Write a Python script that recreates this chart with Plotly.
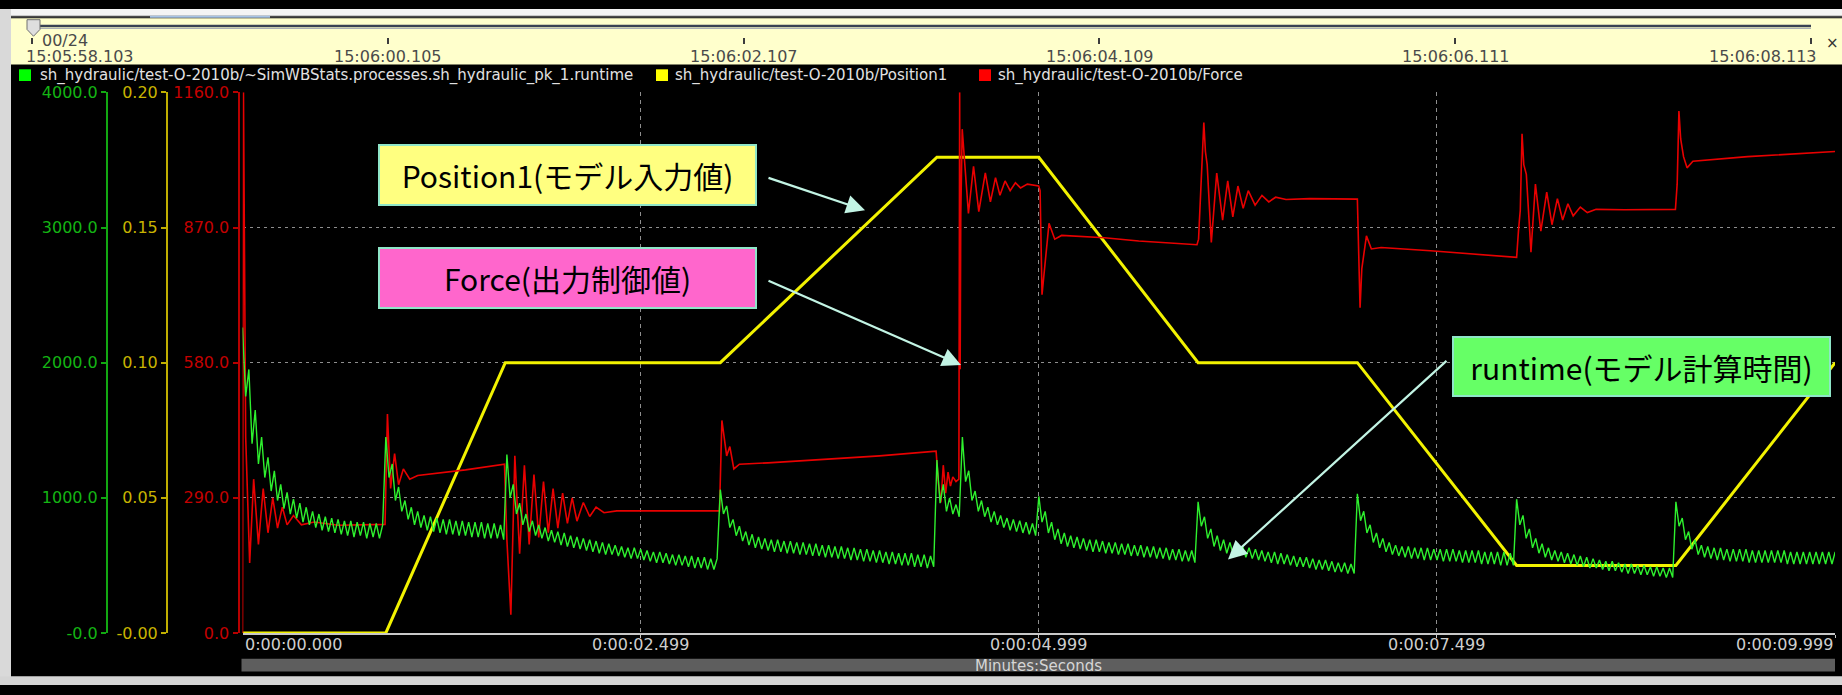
import plotly.graph_objects as go

W, H = 1842, 695


def px(x):
    """pixel column -> paper x"""
    return x / W


def py(y):
    """pixel row (from top) -> paper y"""
    return 1 - y / H


# ---------------- data ----------------
# Position1 (model input), breakpoints of the reference trajectory [s, m]
pos_t = [0.0, 0.9, 1.65, 3.0, 4.36, 5.0, 6.0, 7.0, 8.0, 9.0, 10.0]
pos_v = [0.0, 0.0, 0.1, 0.1, 0.176, 0.176, 0.1, 0.1, 0.025, 0.025, 0.1]

# Force (controller output) [s, N]
force_t = [
    0.0, 0.006, 0.02, 0.045, 0.07, 0.1, 0.13, 0.16, 0.19, 0.22, 0.25, 0.28, 0.32, 0.37, 0.45, 0.6, 0.895,
    0.91, 0.93, 0.955, 0.98, 1.01, 1.05, 1.1, 1.4, 1.645,
    1.66, 1.685, 1.71, 1.74, 1.77, 1.8, 1.83, 1.86, 1.89, 1.92, 1.95, 1.98, 2.01, 2.04, 2.07, 2.1,
    2.14, 2.18, 2.22, 2.27, 2.35, 2.995,
    3.01, 3.04, 3.06, 3.085, 3.12, 3.3, 4.0, 4.355,
    4.37, 4.385, 4.4, 4.415, 4.43, 4.445, 4.46, 4.48, 4.498,
    4.503, 4.506, 4.51, 4.519, 4.558, 4.59, 4.623, 4.664, 4.696, 4.728, 4.756, 4.788, 4.82, 4.853,
    4.885, 4.928, 4.982, 4.999,
    5.008, 5.02, 5.064, 5.1, 5.143, 5.412, 5.627, 5.993,
    6.003, 6.018, 6.036, 6.046, 6.057, 6.083, 6.117, 6.154, 6.186, 6.218, 6.25, 6.283, 6.315, 6.358,
    6.401, 6.444, 6.487, 6.552, 6.7, 7.0,
    7.017, 7.028, 7.057, 7.088, 7.149, 7.459, 8.0,
    8.012, 8.023, 8.034, 8.045, 8.061, 8.09, 8.118, 8.152, 8.189, 8.222, 8.256, 8.289, 8.322, 8.355,
    8.4, 8.444, 8.499, 8.676, 8.997,
    9.008, 9.019, 9.03, 9.048, 9.07, 9.107, 9.45, 9.999,
]
force_v = [
    0, 1160, 420, 150, 330, 190, 310, 215, 290, 225, 270, 232, 252, 232, 238, 231, 233,
    470, 310, 385, 318, 352, 330, 338, 350, 362,
    200, 39, 380, 170, 360, 190, 340, 205, 325, 215, 310, 225, 300, 235, 290, 240,
    280, 250, 270, 258, 262, 262,
    456, 380, 400, 352, 362, 365, 380, 390,
    320, 280, 360, 300, 345, 315, 335, 325, 330,
    1160, 566, 900, 1081, 900, 1001, 904, 987, 925, 977, 939, 970, 949, 966,
    955, 963, 961, 959,
    949, 726, 879, 845, 853, 848, 841, 833,
    845, 963, 1095, 1033, 1005, 838, 987, 886, 970, 893, 959, 911, 949, 918,
    939, 925, 935, 930, 932, 931,
    698, 782, 852, 824, 827, 820, 806,
    865, 907, 1071, 1005, 984, 817, 963, 862, 946, 876, 932, 886, 921, 895,
    914, 902, 909, 908, 909,
    963, 1120, 1060, 1022, 998, 1012, 1022, 1033,
]
assert len(force_t) == len(force_v)

# runtime of the model process, one sample every 0.02 s (t = 0 ... 10.0)
rt_step = 0.02
rt_v = [
    # 0.00 - 0.88
    2260, 1750, 1950, 1400, 1650, 1250, 1450, 1150, 1300, 1050, 1200, 980, 1100, 920, 1040,
    880, 990, 850, 960, 820, 930, 800, 900, 780, 880, 760, 860, 750, 850, 740,
    840, 730, 830, 720, 830, 710, 820, 720, 820, 700, 810, 710, 810, 700, 800,
    # 0.90 - 1.64
    1450, 1150, 1250, 980, 1080, 900, 980, 840, 930, 800, 900, 780, 870, 760, 860,
    750, 850, 740, 840, 730, 840, 730, 830, 720, 830, 720, 820, 710, 820, 710,
    820, 700, 810, 700, 810, 700, 800, 690,
    # 1.66 - 2.98
    1320, 1000, 1100, 880, 960, 800, 880, 750, 830, 720, 800, 700, 780, 680, 760,
    670, 750, 650, 740, 640, 720, 630, 710, 620, 700, 610, 690, 600, 680, 590,
    670, 580, 660, 580, 650, 570, 640, 560, 630, 550, 630, 550, 620, 540, 610,
    530, 600, 520, 600, 520, 590, 510, 580, 500, 580, 500, 570, 490, 570, 480,
    560, 480, 560, 470, 550, 470, 550,
    # 3.00 - 4.34
    1060, 880, 940, 780, 840, 720, 790, 680, 750, 650, 730, 630, 710, 620, 700,
    610, 690, 600, 690, 600, 680, 590, 680, 590, 670, 580, 670, 580, 660, 570,
    660, 570, 650, 560, 650, 560, 640, 550, 640, 550, 630, 540, 630, 540, 620,
    530, 620, 530, 610, 520, 610, 520, 600, 510, 600, 510, 590, 500, 590, 500,
    590, 490, 580, 490, 580, 480, 570, 490,
    # 4.36 - 4.98
    1280, 960, 1100, 900, 1000, 880, 950, 860, 1450, 1120, 1200, 980, 1050, 900, 980,
    860, 930, 820, 900, 800, 870, 780, 850, 760, 840, 750, 830, 740, 820, 730,
    810, 720,
    # 5.00 - 5.98
    1010, 820, 900, 740, 820, 690, 770, 660, 740, 640, 720, 630, 710, 620, 700,
    610, 690, 600, 690, 600, 680, 590, 670, 590, 670, 580, 660, 580, 660, 570,
    650, 570, 650, 560, 640, 560, 640, 550, 630, 550, 630, 540, 620, 540, 620,
    530, 610, 530, 610, 520,
    # 6.00 - 6.98
    970, 790, 860, 700, 770, 640, 720, 610, 690, 590, 670, 580, 650, 570, 640,
    560, 630, 550, 620, 540, 610, 530, 600, 520, 600, 510, 590, 510, 580, 500,
    570, 490, 560, 490, 560, 480, 550, 470, 540, 470, 540, 460, 530, 450, 520,
    450, 520, 440, 510, 440,
    # 7.00 - 7.98
    1030, 830, 900, 740, 800, 670, 740, 630, 700, 600, 670, 580, 650, 570, 640,
    560, 640, 550, 630, 550, 630, 540, 630, 540, 620, 540, 620, 530, 620, 530,
    620, 530, 610, 520, 610, 520, 610, 520, 610, 510, 600, 510, 600, 510, 600,
    500, 600, 500, 590, 500,
    # 8.00 - 8.98
    990, 800, 870, 700, 770, 630, 700, 590, 660, 560, 630, 540, 610, 530, 600,
    520, 590, 510, 580, 500, 570, 490, 560, 480, 550, 480, 540, 470, 530, 460,
    530, 460, 520, 450, 510, 440, 510, 440, 500, 430, 500, 430, 490, 420, 490,
    420, 480, 410, 480, 410,
    # 9.00 - 10.00
    970, 790, 850, 690, 750, 620, 690, 580, 650, 560, 640, 550, 630, 540, 630,
    540, 620, 530, 620, 530, 620, 530, 620, 520, 610, 520, 610, 520, 610, 520,
    610, 520, 610, 520, 610, 510, 600, 510, 600, 510, 600, 510, 600, 510, 600,
    510, 600, 510, 600, 510, 600,
]
rt_t = [round(i * rt_step, 2) for i in range(len(rt_v))]

# axis ticks
x_tick_vals = [0.0, 2.499, 4.999, 7.499, 9.999]
x_tick_text = ["0:00:00.000", "0:00:02.499", "0:00:04.999", "0:00:07.499", "0:00:09.999"]
clock_tick_vals = [0.0, 2.002, 4.004, 6.006, 8.008, 10.010]
clock_tick_text = ["15:05:58.103", "15:06:00.105", "15:06:02.107",
                   "15:06:04.109", "15:06:06.111", "15:06:08.113"]
force_ticks = [0, 290, 580, 870, 1160]
force_text = ["0.0", "290.0", "580.0", "870.0", "1160.0"]
pos_ticks = [0, 0.05, 0.10, 0.15, 0.20]
pos_text = ["-0.00", "0.05", "0.10", "0.15", "0.20"]
rt_ticks = [0, 1000, 2000, 3000, 4000]
rt_text = ["-0.0", "1000.0", "2000.0", "3000.0", "4000.0"]

series_names = [
    "sh_hydraulic/test-O-2010b/~SimWBStats.processes.sh_hydraulic_pk_1.runtime",
    "sh_hydraulic/test-O-2010b/Position1",
    "sh_hydraulic/test-O-2010b/Force",
]

# ---------------- styling ----------------
C_RT, C_POS, C_FORCE = "#2EF02E", "#F2F200", "#E80000"
AX_RT, AX_POS, AX_FORCE = "#12A812", "#C0AE00", "#B80000"
GRID = "#8e8e8e"
FONT = "DejaVu Sans"
JP = "Noto Sans CJK JP"

# plot frame in pixels
X0, X1 = 242.5, 1835.0
Y_TOP, Y_BOT = 85.7, 641.5
CLOCK_PX_PER_S = 355.8 / 2.002
CLOCK_X0 = 32.0

fig = go.Figure()

fig.add_trace(go.Scatter(x=pos_t, y=pos_v, xaxis="x", yaxis="y", mode="lines",
                         line=dict(color=C_POS, width=3), name=series_names[1],
                         hoverinfo="skip"))
fig.add_trace(go.Scatter(x=force_t, y=force_v, xaxis="x", yaxis="y2", mode="lines",
                         line=dict(color=C_FORCE, width=1.6), name=series_names[2],
                         hoverinfo="skip"))
fig.add_trace(go.Scatter(x=rt_t, y=rt_v, xaxis="x", yaxis="y3", mode="lines",
                         line=dict(color=C_RT, width=1.4), name=series_names[0],
                         hoverinfo="skip"))
# holder for the wall-clock scale in the header strip
fig.add_trace(go.Scatter(x=[clock_tick_vals[0]], y=[None], xaxis="x2", yaxis="y4",
                         mode="lines", showlegend=False, hoverinfo="skip"))

ydom = [py(Y_BOT), py(Y_TOP)]


def left_axis(color, lcolor, vals, text, rng, pos, **kw):
    d = dict(range=rng, tickvals=vals, ticktext=text, anchor="free", position=px(pos),
             side="left", showline=True, linecolor=lcolor, linewidth=2, ticks="outside",
             ticklen=5, tickwidth=1.5, tickcolor=lcolor, zeroline=False, showgrid=False,
             tickfont=dict(family=FONT, size=16, color=color), fixedrange=True)
    d.update(kw)
    return d


fig.update_layout(
    width=W, height=H,
    margin=dict(l=0, r=0, t=0, b=0),
    paper_bgcolor="#000000", plot_bgcolor="rgba(0,0,0,0)",
    showlegend=False,
    xaxis=dict(domain=[px(X0), px(X1)], range=[0, 9.999], anchor="y",
               tickvals=x_tick_vals[1:], showticklabels=False,
               showgrid=True, gridcolor=GRID, griddash="4px,4px", gridwidth=1,
               showline=True, linecolor="#c8c8c8", linewidth=2,
               ticks="outside", ticklen=3, tickcolor="#c8c8c8", zeroline=False),
    yaxis=left_axis("#C8B400", AX_POS, pos_ticks, pos_text, [0, 0.2], 167,
                    domain=ydom, showgrid=True, gridcolor=GRID, griddash="3px,4px",
                    gridwidth=1),
    yaxis2=left_axis("#C40000", AX_FORCE, force_ticks, force_text, [0, 1160], 238.5,
                     overlaying="y"),
    yaxis3=left_axis("#14B414", AX_RT, rt_ticks, rt_text, [0, 4000], 107,
                     overlaying="y"),
    xaxis2=dict(domain=[0, 1],
                range=[-CLOCK_X0 / CLOCK_PX_PER_S, (W - CLOCK_X0) / CLOCK_PX_PER_S],
                anchor="y4", side="bottom", tickvals=clock_tick_vals,
                showticklabels=False, ticks="outside", ticklen=6, tickwidth=1.5,
                tickcolor="#3c3c3c", showgrid=False, showline=False, zeroline=False),
    yaxis4=dict(domain=[py(29), 1], visible=False, range=[0, 1]),
)

shapes = []


def rect(x0, y0, x1, y1, fill, line=None, lw=0):
    shapes.append(dict(type="rect", xref="paper", yref="paper",
                       x0=px(x0), x1=px(x1), y0=py(y1), y1=py(y0),
                       fillcolor=fill, line=dict(color=line or fill, width=lw),
                       layer="below"))


def hline(x0, x1, y, color, w):
    shapes.append(dict(type="line", xref="paper", yref="paper",
                       x0=px(x0), x1=px(x1), y0=py(y), y1=py(y),
                       line=dict(color=color, width=w), layer="below"))


# window chrome and header strip
rect(0, 0, W, 8, "#f4f4f4")
hline(0, W, 8, "#4a4a4a", 2)
hline(150, 270, 8, "#a8c4e4", 2)
rect(10, 9.5, W, 57, "#FFFFCC")
hline(30, 1811, 17.5, "#3a4252", 2.5)
hline(30, 1811, 20, "#a9adb3", 1)
shapes.append(dict(type="path", xref="paper", yref="paper",
                   path=(f"M {px(27)} {py(11)} L {px(40)} {py(11)} L {px(40)} {py(21)} "
                         f"L {px(33.5)} {py(28)} L {px(27)} {py(21)} Z"),
                   fillcolor="#dedede", line=dict(color="#707070", width=1), layer="below"))
rect(0, 0, 11, H, "#d9d9d9")
# bottom time-unit bar and window edge
rect(X0 - 1, 668, X1, 681, "#5e5e5e")
rect(0, 686, W, H, "#d4d4d4")

# legend swatches
legend_items = [(19, 38, "#00FF00"), (656, 673, "#FFFF00"), (979, 996, "#FF0000")]
for (sx, tx, col) in legend_items:
    rect(sx, 62, sx + 12, 74, col)

annotations = []


def text(x, y, s, size=16, color="#c8c8c8", xanchor="center", xref="paper",
         family=FONT, **kw):
    a = dict(x=x if xref != "paper" else px(x), y=py(y), xref=xref, yref="paper",
             text=s, showarrow=False, xanchor=xanchor, yanchor="middle",
             font=dict(family=family, size=size, color=color))
    a.update(kw)
    annotations.append(a)


# legend labels
for (sx, tx, col), name in zip(legend_items, series_names):
    text(tx, 68, name, size=15, color="#e2e2e2", xanchor="left")

# header wall-clock labels
text(40, 32.5, "00/24", size=16, color="#4a4a4a", xanchor="left")
for i, (v, s) in enumerate(zip(clock_tick_vals, clock_tick_text)):
    if i == 0:
        text(v, 48.5, s, size=16, color="#4a4a4a", xanchor="left", xref="x2", xshift=-8)
    elif i == len(clock_tick_vals) - 1:
        text(v, 48.5, s, size=16, color="#4a4a4a", xanchor="right", xref="x2", xshift=7)
    else:
        text(v, 48.5, s, size=16, color="#4a4a4a", xanchor="center", xref="x2")
text(1824, 35, "×", size=15, color="#333333", xanchor="left")

# elapsed-time labels under the plot
for i, (v, s) in enumerate(zip(x_tick_vals, x_tick_text)):
    anchor = "left" if i == 0 else ("right" if i == len(x_tick_vals) - 1 else "center")
    text(v, 653, s, size=16, color="#cfcfcf", xanchor=anchor, xref="x")
text((X0 + X1) / 2, 675, "Minutes:Seconds", size=15, color="#d6d6d6")

# callout boxes
boxes = [
    ("Position1(モデル入力値)", 378, 140, 757, 202, "#FFFF80"),
    ("Force(出力制御値)", 378, 246, 757, 308, "#FF66CC"),
    ("runtime(モデル計算時間)", 1452, 337, 1831, 398, "#66FF66"),
]
for s, bx0, by0, bx1, by1, fill in boxes:
    annotations.append(dict(
        x=px((bx0 + bx1) / 2), y=py((by0 + by1) / 2), xref="paper", yref="paper",
        text=s, showarrow=False, xanchor="center", yanchor="middle",
        width=bx1 - bx0 - 4, height=by1 - by0 - 4, bgcolor=fill,
        bordercolor="#8fe6c8", borderwidth=2, borderpad=0,
        font=dict(family=JP, size=30, color="#000000")))

# pointer arrows: head (x, y) and tail (x, y) in pixels
arrows = [((865, 207), (767, 174)), ((961, 366), (767, 281)), ((1228, 566), (1448, 366))]
for (hx, hy), (tx_, ty_) in arrows:
    annotations.append(dict(
        x=px(hx), y=py(hy), xref="paper", yref="paper", text="",
        showarrow=True, ax=tx_ - hx, ay=ty_ - hy, axref="pixel", ayref="pixel",
        arrowhead=2, arrowsize=1.7, arrowwidth=2.2, arrowcolor="#c2f4e4"))

fig.update_layout(shapes=shapes, annotations=annotations)

fig.write_html("out.html", post_script="document.body.style.margin='0';")
